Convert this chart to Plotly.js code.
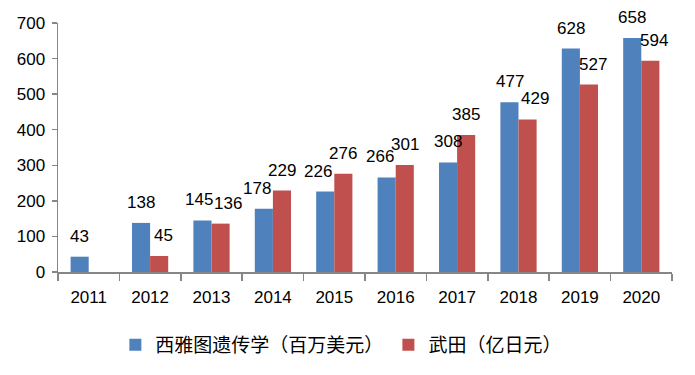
<!DOCTYPE html>
<html>
<head>
<meta charset="utf-8">
<script src="https://cdn.plot.ly/plotly-3.0.1.min.js"></script>
<style>html,body{margin:0;padding:0;background:#fff}#chart{width:695px;height:375px}</style>
</head>
<body>
<div id="chart"></div>
<script>
const years = ["2011","2012","2013","2014","2015","2016","2017","2018","2019","2020"];
const seattleGenetics = [43,138,145,178,226,266,308,477,628,658];
const takeda = [null,45,136,229,276,301,385,429,527,594];
const seriesNames = ["西雅图遗传学（百万美元）","武田（亿日元）"];
const seriesColors = ["#4F81BD","#C0504D"];

const numFont = {family:"Liberation Sans, Arial, sans-serif", size:17, color:"#000"};

const traces = [seattleGenetics, takeda].map((vals,i)=>({
  type:"bar", x:years, y:vals, name:seriesNames[i],
  marker:{color:seriesColors[i]}, hoverinfo:"none"
}));

// labels: centred above each bar; when the two labels of a year sit at a
// similar height they are nudged sideways away from each other
const annotations = [];
const series = [seattleGenetics, takeda];
series.forEach((vals,i)=>{
  vals.forEach((v,k)=>{
    if(v===null) return;
    const other = series[1-i][k];
    const dir = (i===0 ? -1 : 1);
    let nudge = 0;
    if(other!==null){
      const d = Math.abs(other-v);
      if(v<=other && d<70) nudge = 7*dir;
      else if(v>other && d<20) nudge = 4*dir;
      else if(v<other || (v>other && d<110 && i===1)) nudge = 0;
      if(i===1 && v<other && d>=60 && d<110) nudge = 4;
    }
    annotations.push({
      x:k, y:v, xref:"x", yref:"y", text:String(v),
      showarrow:false, yanchor:"bottom", xanchor:"center",
      xshift: 9*dir + nudge, yshift:9, font:numFont
    });
  });
});

const layout = {
  width:695, height:375,
  margin:{l:58, r:23, t:23, b:103},
  paper_bgcolor:"#fff", plot_bgcolor:"#fff",
  barmode:"group", bargap:0.41, bargroupgap:0,
  showlegend:true,
  legend:{orientation:"h", xref:"container", x:0.166, xanchor:"left", yref:"container", y:0.08, yanchor:"middle",
    font:{family:"Noto Sans CJK SC, sans-serif", size:19, color:"#000"}, itemgap:0},
  xaxis:{type:"category", categoryarray:years, range:[-0.5, years.length-0.5], autorange:false,
    showline:true, linecolor:"#868686", linewidth:1.5,
    ticks:"outside", tickson:"boundaries", ticklen:7, tickcolor:"#868686", tickwidth:1.5,
    ticklabelstandoff:9,
    tickfont:numFont, showgrid:false, zeroline:false, fixedrange:true},
  yaxis:{range:[0,700], autorange:false, dtick:100, tick0:0, showline:true, linecolor:"#868686", linewidth:1.5,
    ticks:"outside", ticklen:5, tickcolor:"#868686", tickwidth:1.5,
    ticklabelstandoff:3,
    tickfont:numFont, showgrid:false, zeroline:false, fixedrange:true},
  annotations:annotations
};

Plotly.newPlot("chart", traces, layout, {displayModeBar:false, staticPlot:true});
</script>
</body>
</html>
